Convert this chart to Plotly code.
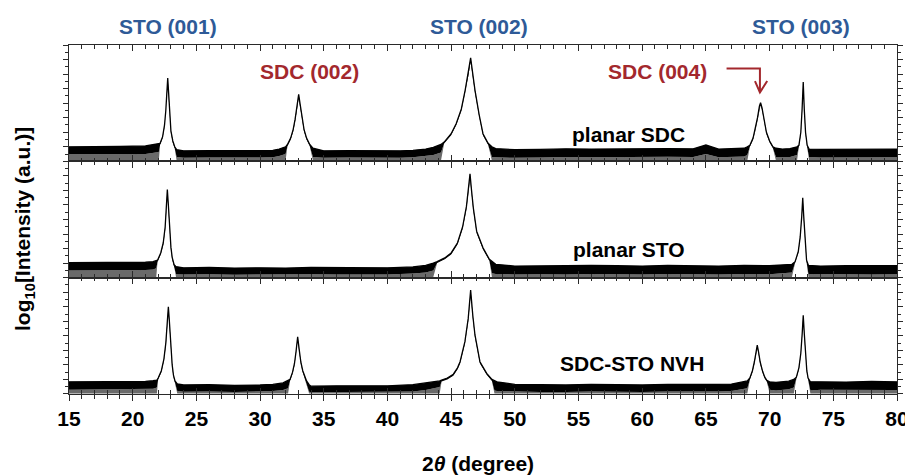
import plotly.graph_objects as go

# ---------------- data (log10 intensity, arbitrary offset) ----------------
# Each sample: 2theta grid, upper edge of the trace band, lower (dense) edge of the band.
# Peak spans = where the trace is a single line (no noise reaching the axis).

# planar SDC (top panel)
two_theta_sdc = [15, 17, 19, 21, 21.8, 22.05,
                 22.15, 22.35, 22.5, 22.6, 22.7, 22.75, 22.8, 22.9, 23.0, 23.15, 23.3,
                 23.45, 24, 26, 28, 30, 31, 31.5, 32.0,
                 32.15, 32.4, 32.6, 32.75, 32.9, 33.03, 33.15, 33.3, 33.45, 33.65, 33.9,
                 34.15, 35, 37, 39, 41, 42, 43, 43.6, 44.2,
                 44.45, 45.0, 45.4, 45.8, 46.1, 46.35, 46.53, 46.7, 46.87, 47.2, 47.5, 47.9,
                 48.2, 48.5, 50, 52, 54, 56, 58, 60, 62, 64, 65, 66, 68, 68.25,
                 68.45, 68.7, 68.9, 69.05, 69.2, 69.29, 69.4, 69.55, 69.75, 70.0, 70.26,
                 70.5, 71, 71.6, 72.15,
                 72.3, 72.45, 72.55, 72.64, 72.72, 72.82, 72.95,
                 73.1, 74, 76, 78, 80]
upper_sdc = [0.50, 0.50, 0.51, 0.53, 0.58, 0.60,
             0.62, 0.85, 1.25, 1.75, 2.50, 2.86, 2.50, 1.60, 1.05, 0.70, 0.50,
             0.40, 0.36, 0.37, 0.36, 0.37, 0.38, 0.42, 0.50,
             0.58, 0.80, 1.10, 1.45, 1.95, 2.30, 1.95, 1.45, 1.10, 0.80, 0.58,
             0.45, 0.36, 0.37, 0.36, 0.36, 0.38, 0.42, 0.48, 0.58,
             0.66, 0.95, 1.30, 1.80, 2.45, 3.05, 3.56, 3.00, 2.45, 1.60, 0.95, 0.62,
             0.50, 0.44, 0.40, 0.41, 0.43, 0.42, 0.43, 0.42, 0.44, 0.43, 0.56, 0.42, 0.45, 0.50,
             0.55, 0.80, 1.15, 1.50, 1.90, 2.02, 1.85, 1.45, 1.00, 0.70, 0.50,
             0.45, 0.42, 0.44, 0.50,
             0.55, 1.00, 1.80, 2.73, 1.80, 1.00, 0.55,
             0.42, 0.41, 0.42, 0.43, 0.42]
lower_sdc = [0.24, 0.24, 0.24, 0.25, 0.30, 0.32,
             0.56, 0.80, 1.18, 1.64, 2.36, 2.70, 2.36, 1.50, 0.98, 0.64, 0.44,
             0.15, 0.12, 0.13, 0.12, 0.13, 0.14, 0.18, 0.25,
             0.52, 0.74, 1.03, 1.38, 1.85, 2.16, 1.85, 1.38, 1.03, 0.74, 0.52,
             0.15, 0.12, 0.13, 0.12, 0.12, 0.14, 0.18, 0.22, 0.30,
             0.61, 0.90, 1.25, 1.74, 2.36, 2.94, 3.42, 2.90, 2.36, 1.54, 0.89, 0.57,
             0.15, 0.14, 0.12, 0.13, 0.15, 0.14, 0.15, 0.14, 0.16, 0.15, 0.25, 0.14, 0.17, 0.22,
             0.50, 0.74, 1.08, 1.43, 1.82, 1.92, 1.78, 1.38, 0.94, 0.65, 0.45,
             0.15, 0.14, 0.15, 0.22,
             0.50, 0.93, 1.70, 2.58, 1.70, 0.93, 0.48,
             0.15, 0.13, 0.14, 0.15, 0.14]
peaks_sdc = [(22.15, 23.3), (32.15, 33.9), (44.45, 47.9), (68.45, 70.26), (72.3, 72.95)]

# planar STO (middle panel)
two_theta_sto = [15, 17, 19, 21, 21.6, 21.85,
                 21.95, 22.2, 22.4, 22.55, 22.65, 22.72, 22.8, 22.9, 23.0, 23.1, 23.25,
                 23.4, 24, 26, 28, 30, 32, 34, 36, 38, 40, 42, 43, 43.6,
                 43.9, 44.5, 45.0, 45.5, 45.9, 46.2, 46.38, 46.48, 46.6, 46.74, 47.0, 47.5, 48.0,
                 48.2, 48.5, 50, 52, 54, 56, 58, 60, 62, 64, 66, 68, 70, 71.75,
                 72.0, 72.25, 72.4, 72.52, 72.6, 72.68, 72.78, 72.9,
                 73.05, 74, 76, 78, 80]
upper_sto = [0.52, 0.52, 0.52, 0.53, 0.55, 0.58,
             0.60, 0.85, 1.20, 1.75, 2.50, 3.03, 2.50, 1.65, 1.05, 0.70, 0.45,
             0.38, 0.34, 0.35, 0.33, 0.34, 0.33, 0.35, 0.34, 0.34, 0.34, 0.37, 0.42, 0.50,
             0.55, 0.68, 0.85, 1.20, 1.75, 2.45, 3.10, 3.57, 3.00, 2.40, 1.60, 1.03, 0.63,
             0.55, 0.46, 0.40, 0.41, 0.40, 0.42, 0.41, 0.40, 0.42, 0.41, 0.40, 0.42, 0.41, 0.46,
             0.55, 0.90, 1.40, 2.10, 2.75, 2.10, 1.30, 0.60,
             0.42, 0.40, 0.41, 0.40, 0.41]
lower_sto = [0.25, 0.25, 0.24, 0.26, 0.28, 0.32,
             0.54, 0.80, 1.13, 1.64, 2.36, 2.87, 2.36, 1.55, 0.98, 0.63, 0.40,
             0.12, 0.11, 0.12, 0.10, 0.11, 0.10, 0.12, 0.11, 0.11, 0.11, 0.14, 0.18, 0.25,
             0.50, 0.63, 0.80, 1.14, 1.68, 2.36, 2.98, 3.42, 2.90, 2.31, 1.53, 0.97, 0.58,
             0.15, 0.13, 0.11, 0.12, 0.11, 0.13, 0.12, 0.11, 0.13, 0.12, 0.11, 0.13, 0.12, 0.18,
             0.50, 0.85, 1.34, 2.00, 2.60, 2.00, 1.24, 0.54,
             0.13, 0.12, 0.12, 0.11, 0.12]
peaks_sto = [(21.95, 23.25), (43.9, 48.0), (72.0, 72.9)]

# SDC-STO NVH (bottom panel)
two_theta_nvh = [15, 17, 19, 21, 21.6, 21.9,
                 22.0, 22.25, 22.45, 22.6, 22.72, 22.8, 22.88, 22.98, 23.1, 23.2, 23.32,
                 23.5, 24, 26, 28, 30, 31, 31.8, 32.2,
                 32.35, 32.55, 32.7, 32.82, 32.95, 33.08, 33.2, 33.35, 33.5, 33.65,
                 33.85, 34, 36, 38, 40, 42, 43, 43.8, 44.1,
                 44.25, 44.7, 45.17, 45.5, 45.7, 46.08, 46.34, 46.53, 46.7, 46.87, 47.26, 47.79, 48.2,
                 48.4, 48.6, 50, 52, 54, 56, 58, 60, 62, 64, 66, 67, 67.8, 68.25,
                 68.45, 68.65, 68.8, 68.93, 69.03, 69.13, 69.26, 69.45, 69.62, 69.78,
                 70.0, 70.5, 71, 71.5, 71.9,
                 72.1, 72.3, 72.45, 72.56, 72.64, 72.72, 72.82, 72.92, 73.02,
                 73.2, 74, 76, 78, 80]
upper_nvh = [0.42, 0.43, 0.42, 0.43, 0.46, 0.48,
             0.55, 0.80, 1.20, 1.75, 2.50, 3.00, 2.50, 1.65, 1.00, 0.65, 0.45,
             0.35, 0.31, 0.32, 0.30, 0.31, 0.33, 0.38, 0.45,
             0.50, 0.75, 1.05, 1.45, 1.97, 1.50, 1.10, 0.80, 0.58, 0.45,
             0.32, 0.27, 0.28, 0.27, 0.28, 0.32, 0.38, 0.42, 0.45,
             0.48, 0.55, 0.68, 0.90, 1.11, 1.80, 2.60, 3.57, 2.70, 2.03, 1.11, 0.71, 0.50,
             0.45, 0.42, 0.33, 0.32, 0.31, 0.33, 0.32, 0.31, 0.33, 0.32, 0.33, 0.34, 0.40, 0.45,
             0.55, 0.80, 1.10, 1.45, 1.68, 1.45, 1.10, 0.78, 0.58, 0.47,
             0.42, 0.40, 0.42, 0.44, 0.50,
             0.58, 0.90, 1.40, 2.10, 2.71, 2.10, 1.35, 0.80, 0.55,
             0.42, 0.42, 0.41, 0.43, 0.42]
lower_nvh = [0.15, 0.16, 0.15, 0.16, 0.18, 0.22,
             0.50, 0.75, 1.14, 1.65, 2.36, 2.84, 2.36, 1.55, 0.93, 0.59, 0.40,
             0.10, 0.08, 0.09, 0.07, 0.08, 0.10, 0.14, 0.20,
             0.45, 0.70, 0.98, 1.38, 1.86, 1.43, 1.03, 0.75, 0.53, 0.40,
             0.08, 0.06, 0.07, 0.06, 0.07, 0.09, 0.14, 0.20, 0.24,
             0.43, 0.50, 0.63, 0.85, 1.05, 1.73, 2.50, 3.42, 2.60, 1.95, 1.05, 0.66, 0.45,
             0.12, 0.10, 0.08, 0.07, 0.07, 0.09, 0.08, 0.07, 0.09, 0.08, 0.09, 0.10, 0.15, 0.20,
             0.49, 0.75, 1.03, 1.38, 1.58, 1.38, 1.03, 0.73, 0.53, 0.42,
             0.15, 0.12, 0.14, 0.16, 0.22,
             0.52, 0.85, 1.34, 2.00, 2.56, 2.00, 1.29, 0.75, 0.50,
             0.12, 0.15, 0.14, 0.15, 0.14]
peaks_nvh = [(22.0, 23.32), (32.35, 33.65), (44.25, 48.2), (68.45, 69.78), (72.1, 73.02)]

sample_labels = ["planar SDC", "planar STO", "SDC-STO NVH"]
peak_labels_sto = ["STO (001)", "STO (002)", "STO (003)"]
peak_labels_sdc = ["SDC (002)", "SDC (004)"]
x_ticks = [15, 20, 25, 30, 35, 40, 45, 50, 55, 60, 65, 70, 75, 80]

# ---------------- styling ----------------
FONT = "Liberation Sans, Arial, sans-serif"
BLUE = "#2E5A97"
RED = "#A3282D"
AXC = "#2a2a2a"
NOISE_FLOOR = 0.02

panels = [
    (two_theta_sdc, upper_sdc, lower_sdc, peaks_sdc, "x", "y"),
    (two_theta_sto, upper_sto, lower_sto, peaks_sto, "x2", "y2"),
    (two_theta_nvh, upper_nvh, lower_nvh, peaks_nvh, "x3", "y3"),
]

fig = go.Figure()
for tt, up, lo, spans, xa, ya in panels:
    assert len(tt) == len(up) == len(lo), (len(tt), len(up), len(lo))
    floor = [l if any(a - 1e-9 <= t <= b + 1e-9 for a, b in spans) else NOISE_FLOOR
             for t, l in zip(tt, lo)]
    fig.add_trace(go.Scatter(x=tt, y=floor, mode="lines", line=dict(width=0),
                             xaxis=xa, yaxis=ya, showlegend=False, hoverinfo="skip"))
    fig.add_trace(go.Scatter(x=tt, y=lo, mode="lines", line=dict(width=0),
                             fill="tonexty", fillcolor="#6a6a6a",
                             xaxis=xa, yaxis=ya, showlegend=False, hoverinfo="skip"))
    fig.add_trace(go.Scatter(x=tt, y=up, mode="lines", line=dict(color="black", width=1.3),
                             fill="tonexty", fillcolor="black",
                             xaxis=xa, yaxis=ya, showlegend=False))
# helper trace so the overlay tick axis exists
fig.add_trace(go.Scatter(x=[15], y=[-1], mode="markers", marker=dict(opacity=0),
                         xaxis="x4", yaxis="y3", showlegend=False, hoverinfo="skip"))

xcommon = dict(range=[15, 80], showline=True, linecolor=AXC, linewidth=1.4, automargin=False,
               tickmode="array", tickvals=x_ticks, ticklen=6, tickwidth=1.2, tickcolor=AXC,
               minor=dict(dtick=1, ticklen=3.5, tickwidth=1, tickcolor=AXC),
               showgrid=False, zeroline=False)
ycommon = dict(range=[0, 4], showline=True, linecolor=AXC, linewidth=1.4, mirror="ticks",
               automargin=False,
               ticks="outside", dtick=0.5, ticklen=5, tickwidth=1.1, tickcolor=AXC,
               minor=dict(dtick=0.25, ticklen=3, ticks="outside", tickcolor=AXC, tickwidth=1),
               showticklabels=False, showgrid=False, zeroline=False)

# the page body adds an 8 px offset; margins compensate so the plot lands where the reference has it
fig.update_layout(
    width=913, height=476,
    margin=dict(l=61, r=24, t=37, b=90),
    paper_bgcolor="white", plot_bgcolor="white",
    font=dict(family=FONT, color="black"),
    xaxis=dict(**xcommon, anchor="y", ticks="inside", mirror="ticks", showticklabels=False,
               minor_ticks="inside"),
    xaxis2=dict(**xcommon, anchor="y2", ticks="inside", mirror="ticks", showticklabels=False,
                minor_ticks="inside", matches="x"),
    xaxis3=dict(**xcommon, anchor="y3", ticks="outside", showticklabels=True,
                minor_ticks="outside", matches="x",
                tickfont=dict(size=21, family=FONT, weight="bold", color="black")),
    xaxis4=dict(**xcommon, anchor="y3", overlaying="x3", ticks="inside", mirror="ticks",
                showticklabels=False, minor_ticks="inside"),
    yaxis=dict(**ycommon, domain=[2 / 3, 1], anchor="x"),
    yaxis2=dict(**ycommon, domain=[1 / 3, 2 / 3], anchor="x2"),
    yaxis3=dict(**ycommon, domain=[0, 1 / 3], anchor="x3"),
)

ann = []
center = dict(xanchor="center", yanchor="middle", showarrow=False)
for txt, xv in zip(peak_labels_sto, [22.77, 47.15, 72.44]):
    ann.append(dict(text=f"<b>{txt}</b>", x=xv, xref="x", y=1.052, yref="paper",
                    font=dict(size=21, color=BLUE, family=FONT), **center))
for txt, xv in zip(peak_labels_sdc, [33.9, 61.2]):
    ann.append(dict(text=f"<b>{txt}</b>", x=xv, xref="x", y=3.09, yref="y",
                    font=dict(size=21, color=RED, family=FONT), **center))
for txt, xv, yv, ya in zip(sample_labels, [58.9, 59.0, 59.2], [0.93, 0.97, 1.05], ["y", "y2", "y3"]):
    ann.append(dict(text=f"<b>{txt}</b>", x=xv, xref="x", y=yv, yref=ya,
                    font=dict(size=21, color="black", family=FONT), **center))
ann.append(dict(text="<b>2<i>θ</i> (degree)</b>", x=0.494, xref="paper", y=-0.198, yref="paper",
                font=dict(size=21, family=FONT), **center))
ann.append(dict(text="<b>log<sub>10</sub>[Intensity (a.u.)]</b>", x=-0.0543, xref="paper",
                y=0.473, yref="paper", textangle=-90,
                font=dict(size=21, family=FONT), **center))
fig.update_layout(annotations=ann)

# arrow pointing to SDC (004)
fig.add_shape(type="path", xref="x", yref="y",
              path="M 66.62,3.19 L 69.24,3.19 L 69.24,2.37",
              line=dict(color=RED, width=2))
fig.add_shape(type="path", xref="x", yref="y",
              path="M 68.85,2.76 L 69.24,2.37 L 69.81,2.76",
              line=dict(color=RED, width=2))

fig.write_html("out.html")
